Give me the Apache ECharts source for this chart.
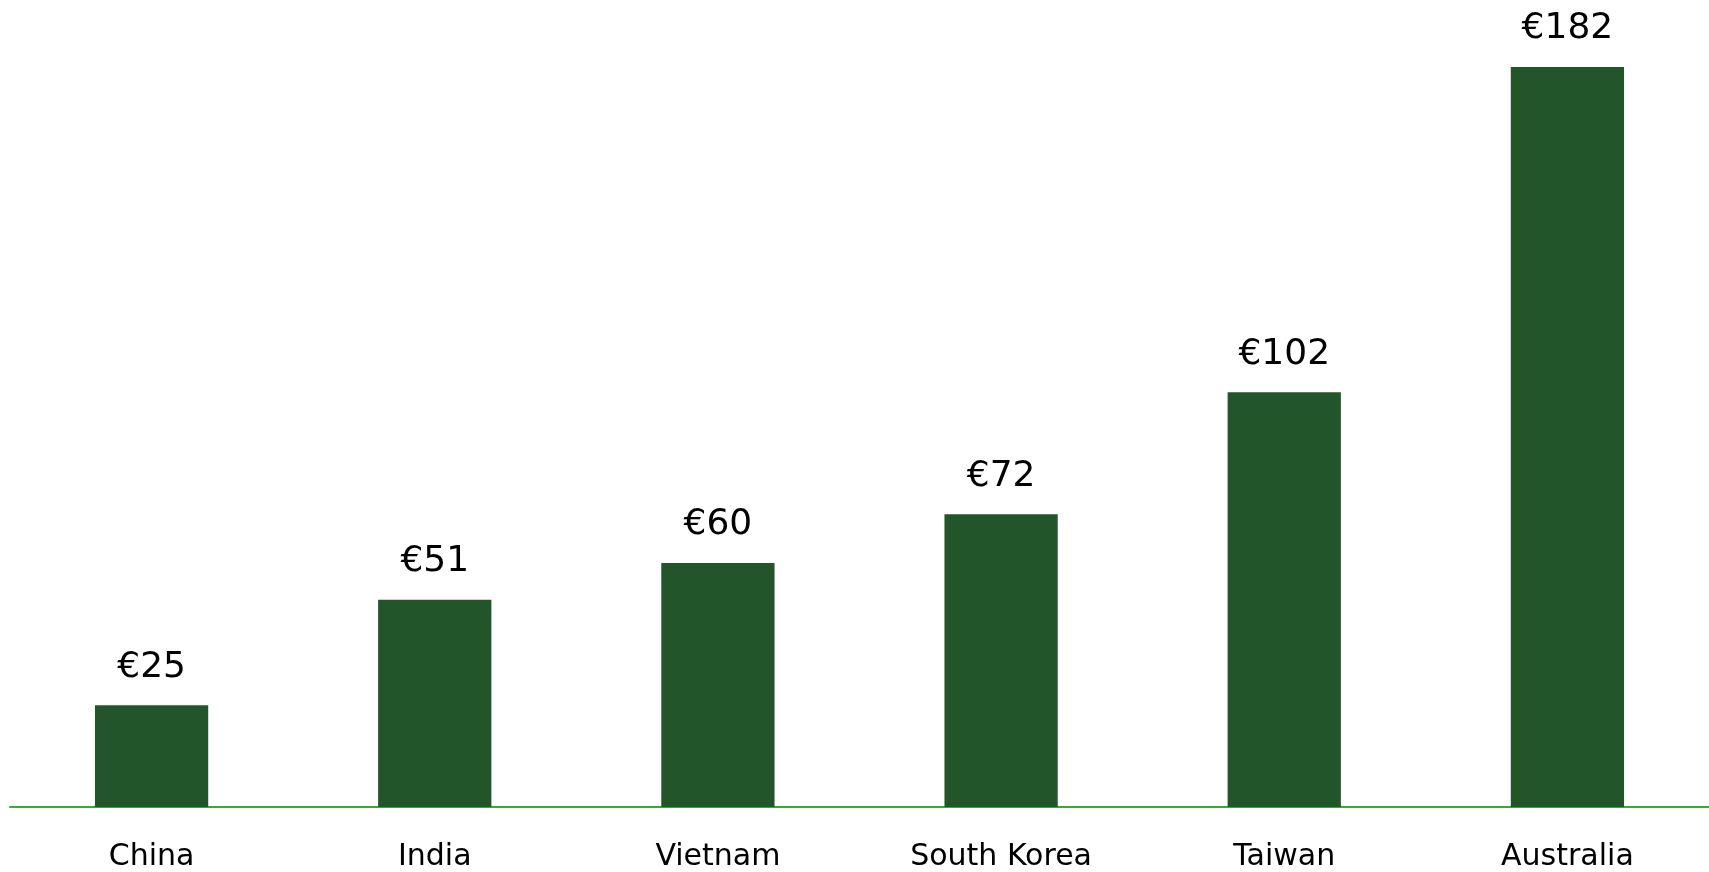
<!DOCTYPE html>
<html>
<head>
<meta charset="utf-8">
<style>
html,body{margin:0;padding:0;background:#fff;}
#chart{width:1709px;height:872px;}
</style>
<script src="https://cdn.jsdelivr.net/npm/echarts@6/dist/echarts.min.js"></script>
</head>
<body>
<div id="chart"></div>
<script>
// 数据
var countries = ['China', 'India', 'Vietnam', 'South Korea', 'Taiwan', 'Australia'];
var prices = [25, 51, 60, 72, 102, 182];

var chart = echarts.init(document.getElementById('chart'));
chart.setOption({
	animation: false,
	grid: {
		left: 10,
		right: 0,
		top: 67,
		bottom: 65
	},
	xAxis: {
		type: 'category',
		data: countries,
		axisLine: {lineStyle: {color: '#3aa935', width: 2}},
		axisTick: {show: false},
		axisLabel: {
			color: '#000',
			fontFamily: 'DejaVu Sans',
			fontSize: 30,
			margin: 35
		}
	},
	yAxis: {
		type: 'value',
		min: 0,
		max: 182,
		show: false,
		splitLine: {show: false}
	},
	series: [{
		type: 'bar',
		data: prices,
		barWidth: '40%',
		itemStyle: {color: '#22552a'},
		label: {
			show: true,
			position: 'top',
			distance: 20,
			color: '#000',
			fontFamily: 'DejaVu Sans',
			fontSize: 36,
			formatter: function(p){ return '€' + p.value; }
		}
	}]
});
</script>
</body>
</html>
